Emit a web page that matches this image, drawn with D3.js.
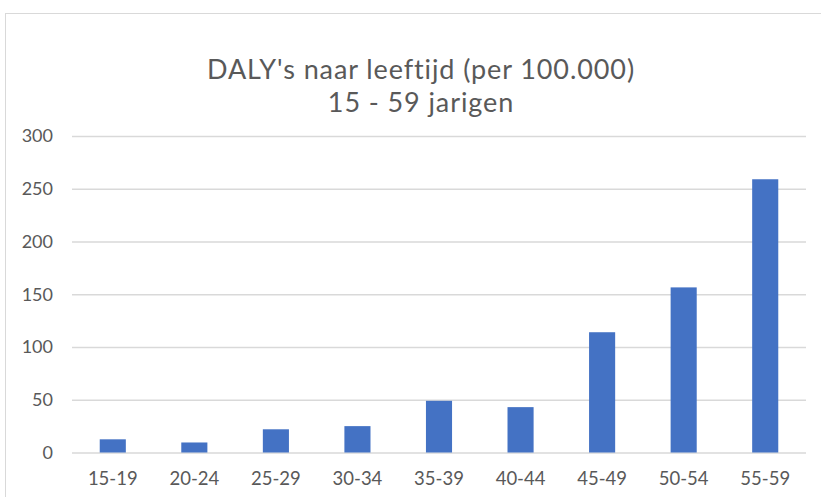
<!DOCTYPE html>
<html>
<head>
<meta charset="utf-8">
<script src="https://cdn.jsdelivr.net/npm/d3@7"></script>
<style>
  body { margin: 0; background: #fff; }
  svg { display: block; }
  text { font-family: Lato, "Open Sans", sans-serif; fill: #595959; }
</style>
</head>
<body>
<div id="chart"></div>
<script>
// data
var ageGroups = ["15-19", "20-24", "25-29", "30-34", "35-39", "40-44", "45-49", "50-54", "55-59"];
var dalys = [12.5, 9.5, 22, 25, 49, 43, 114, 156.5, 259];
var yTicks = [0, 50, 100, 150, 200, 250, 300];
var titleLines = ["DALY's naar leeftijd (per 100.000)", "15 - 59 jarigen"];

var svgWidth = 821;
var svgHeight = 497;

var margin = { top: 136, right: 15, bottom: 45, left: 72 };
var width = 806 - margin.left;
var height = 452.5 - margin.top;

var svg = d3.select("#chart")
  .append("svg")
  .attr("width", svgWidth)
  .attr("height", svgHeight);

// chart area border
svg.append("rect")
  .attr("x", 5.5)
  .attr("y", 13.5)
  .attr("width", 840)
  .attr("height", 500)
  .attr("fill", "#fff")
  .attr("stroke", "#d9d9d9")
  .attr("stroke-width", 1);

var chartGroup = svg.append("g")
  .attr("transform", `translate(${margin.left}, ${margin.top})`);

var xScale = d3.scaleBand()
  .domain(ageGroups)
  .range([0, width])
  .paddingInner(0.68)
  .paddingOuter(0.34);

var yScale = d3.scaleLinear()
  .domain([0, 300])
  .range([height, 0]);

// gridlines + y labels
var yAxis = d3.axisLeft(yScale)
  .tickValues(yTicks)
  .tickSize(-width)
  .tickPadding(19);

var yG = chartGroup.append("g").call(yAxis);
yG.select(".domain").remove();
yG.selectAll(".tick line").attr("stroke", "#d9d9d9").attr("stroke-width", 1.3);
yG.selectAll(".tick text")
  .style("font-size", "18px")
  .attr("fill", "#595959");

// x labels
var xAxis = d3.axisBottom(xScale).tickSize(0).tickPadding(19);
var xG = chartGroup.append("g")
  .attr("transform", `translate(0, ${height})`)
  .call(xAxis);
xG.select(".domain").remove();
xG.selectAll(".tick text")
  .style("font-size", "18.5px")
  .attr("fill", "#595959");

// bars
chartGroup.selectAll(".bar")
  .data(dalys)
  .enter()
  .append("rect")
  .attr("class", "bar")
  .attr("x", (d, i) => xScale(ageGroups[i]))
  .attr("y", d => yScale(d))
  .attr("width", xScale.bandwidth())
  .attr("height", d => height - yScale(d))
  .attr("fill", "#4472c4");

// title
svg.selectAll(".title")
  .data(titleLines)
  .enter()
  .append("text")
  .attr("class", "title")
  .attr("x", 421)
  .attr("y", (d, i) => 79 + i * 33)
  .attr("text-anchor", "middle")
  .style("font-size", "27px")
  .style("letter-spacing", "0.9px")
  .text(d => d);
</script>
</body>
</html>
